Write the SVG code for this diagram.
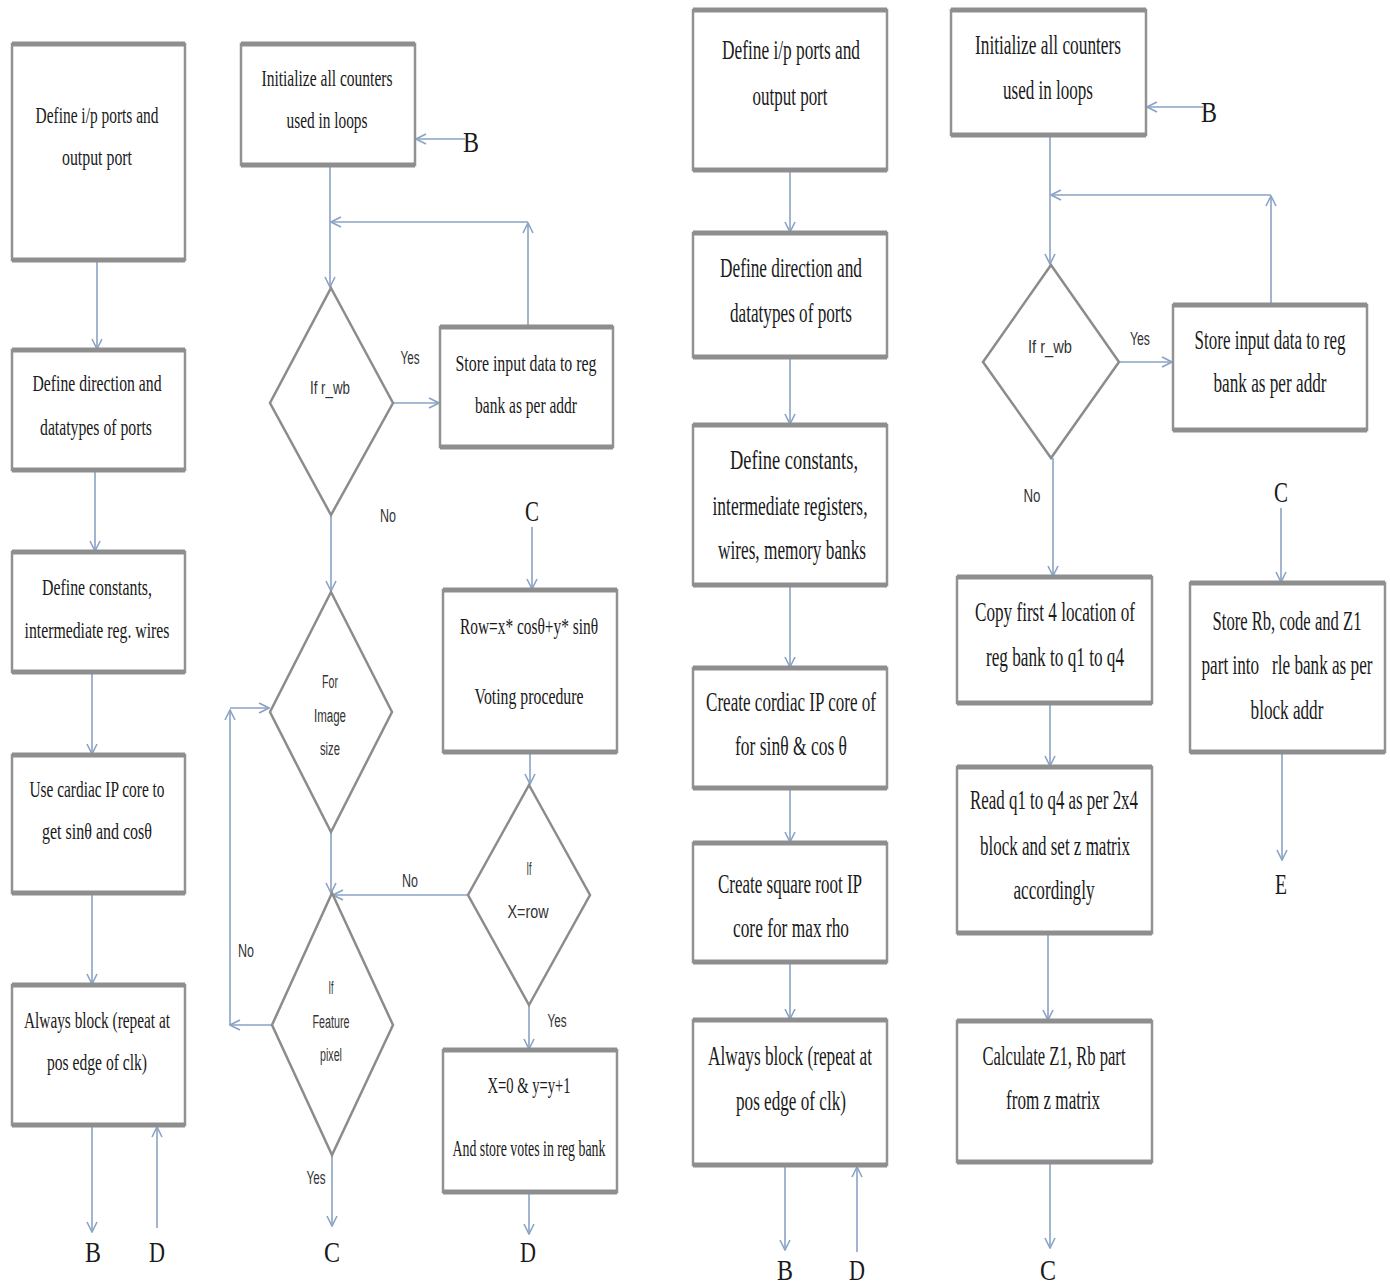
<svg xmlns="http://www.w3.org/2000/svg" width="1390" height="1287" viewBox="0 0 1390 1287">
<style>
.bx{fill:#fff;stroke:#929292;stroke-width:2.5}
.eg{stroke:#8e8e8e;stroke-width:5}
.dm{fill:#fff;stroke:#8c8c8c;stroke-width:2.5}
.t{font-family:"Liberation Serif",serif;font-size:24px;fill:#1a1a1a;text-anchor:middle}
.tl{font-family:"Liberation Serif",serif;font-size:27px;fill:#1a1a1a;text-anchor:middle}
.s{font-family:"Liberation Sans",sans-serif;font-size:18px;fill:#333;text-anchor:middle}
.lb{font-family:"Liberation Serif",serif;font-size:29px;fill:#1a1a1a;text-anchor:middle}
.c{fill:none;stroke:#8aa3c4;stroke-width:1.6}
</style>
<defs>
<marker id="a" viewBox="0 0 12 12" refX="11" refY="6" markerWidth="12" markerHeight="12" markerUnits="userSpaceOnUse" orient="auto">
<path d="M1,1 L11,6 L1,11" fill="none" stroke="#8aa3c4" stroke-width="1.6"/>
</marker>
</defs>

<g id="connectors">
<line class="c" x1="97" y1="260" x2="97" y2="349" marker-end="url(#a)"/>
<line class="c" x1="95" y1="470" x2="95" y2="551" marker-end="url(#a)"/>
<line class="c" x1="92" y1="672" x2="92" y2="754" marker-end="url(#a)"/>
<line class="c" x1="92" y1="893" x2="92" y2="984" marker-end="url(#a)"/>
<line class="c" x1="92" y1="1125" x2="92" y2="1232" marker-end="url(#a)"/>
<line class="c" x1="157" y1="1228" x2="157" y2="1127" marker-end="url(#a)"/>
<line class="c" x1="465" y1="139" x2="416" y2="139" marker-end="url(#a)"/>
<line class="c" x1="330" y1="165" x2="330" y2="287" marker-end="url(#a)"/>
<line class="c" x1="528" y1="327" x2="528" y2="223" marker-end="url(#a)"/>
<line class="c" x1="528" y1="222" x2="331" y2="222" marker-end="url(#a)"/>
<line class="c" x1="393" y1="403" x2="439" y2="403" marker-end="url(#a)"/>
<line class="c" x1="331" y1="515" x2="331" y2="591" marker-end="url(#a)"/>
<line class="c" x1="331" y1="832" x2="331" y2="893" marker-end="url(#a)"/>
<line class="c" x1="272" y1="1025" x2="230" y2="1025" marker-end="url(#a)"/>
<line class="c" x1="230" y1="1025" x2="230" y2="710" marker-end="url(#a)"/>
<line class="c" x1="230" y1="708" x2="269" y2="708" marker-end="url(#a)"/>
<line class="c" x1="332" y1="1155" x2="332" y2="1226" marker-end="url(#a)"/>
<line class="c" x1="532" y1="527" x2="532" y2="589" marker-end="url(#a)"/>
<line class="c" x1="530" y1="752" x2="530" y2="784" marker-end="url(#a)"/>
<line class="c" x1="468" y1="895" x2="333" y2="895" marker-end="url(#a)"/>
<line class="c" x1="529" y1="1005" x2="529" y2="1049" marker-end="url(#a)"/>
<line class="c" x1="529" y1="1192" x2="529" y2="1234" marker-end="url(#a)"/>
<line class="c" x1="790" y1="170" x2="790" y2="232" marker-end="url(#a)"/>
<line class="c" x1="790" y1="357" x2="790" y2="424" marker-end="url(#a)"/>
<line class="c" x1="790" y1="585" x2="790" y2="667" marker-end="url(#a)"/>
<line class="c" x1="790" y1="788" x2="790" y2="842" marker-end="url(#a)"/>
<line class="c" x1="790" y1="962" x2="790" y2="1019" marker-end="url(#a)"/>
<line class="c" x1="785" y1="1165" x2="785" y2="1250" marker-end="url(#a)"/>
<line class="c" x1="857" y1="1252" x2="857" y2="1167" marker-end="url(#a)"/>
<line class="c" x1="1203" y1="107" x2="1147" y2="107" marker-end="url(#a)"/>
<line class="c" x1="1050" y1="135" x2="1050" y2="264" marker-end="url(#a)"/>
<line class="c" x1="1271" y1="305" x2="1271" y2="196" marker-end="url(#a)"/>
<line class="c" x1="1271" y1="195" x2="1051" y2="195" marker-end="url(#a)"/>
<line class="c" x1="1119" y1="362" x2="1172" y2="362" marker-end="url(#a)"/>
<line class="c" x1="1053" y1="458" x2="1053" y2="576" marker-end="url(#a)"/>
<line class="c" x1="1050" y1="703" x2="1050" y2="766" marker-end="url(#a)"/>
<line class="c" x1="1048" y1="933" x2="1048" y2="1020" marker-end="url(#a)"/>
<line class="c" x1="1050" y1="1162" x2="1050" y2="1248" marker-end="url(#a)"/>
<line class="c" x1="1281" y1="508" x2="1281" y2="582" marker-end="url(#a)"/>
<line class="c" x1="1282" y1="752" x2="1282" y2="860" marker-end="url(#a)"/>
</g>

<g id="labels">
<text class="lb" x="93" y="1262" textLength="16" lengthAdjust="spacingAndGlyphs">B</text>
<text class="lb" x="157" y="1262" textLength="16" lengthAdjust="spacingAndGlyphs">D</text>
<text class="lb" x="471" y="152" textLength="16" lengthAdjust="spacingAndGlyphs">B</text>
<text class="lb" x="332" y="1262" textLength="16" lengthAdjust="spacingAndGlyphs">C</text>
<text class="lb" x="532" y="521" textLength="14" lengthAdjust="spacingAndGlyphs">C</text>
<text class="lb" x="528" y="1262" textLength="16" lengthAdjust="spacingAndGlyphs">D</text>
<text class="lb" x="785" y="1280" textLength="16" lengthAdjust="spacingAndGlyphs">B</text>
<text class="lb" x="857" y="1280" textLength="16" lengthAdjust="spacingAndGlyphs">D</text>
<text class="lb" x="1209" y="122" textLength="16" lengthAdjust="spacingAndGlyphs">B</text>
<text class="lb" x="1048" y="1280" textLength="16" lengthAdjust="spacingAndGlyphs">C</text>
<text class="lb" x="1281" y="502" textLength="14" lengthAdjust="spacingAndGlyphs">C</text>
<text class="lb" x="1281" y="894" textLength="12" lengthAdjust="spacingAndGlyphs">E</text>
<text class="s" x="410" y="364" textLength="19" lengthAdjust="spacingAndGlyphs">Yes</text>
<text class="s" x="388" y="522" textLength="16" lengthAdjust="spacingAndGlyphs">No</text>
<text class="s" x="246" y="957" textLength="16" lengthAdjust="spacingAndGlyphs">No</text>
<text class="s" x="316" y="1184" textLength="19" lengthAdjust="spacingAndGlyphs">Yes</text>
<text class="s" x="410" y="887" textLength="16" lengthAdjust="spacingAndGlyphs">No</text>
<text class="s" x="557" y="1027" textLength="19" lengthAdjust="spacingAndGlyphs">Yes</text>
<text class="s" x="1140" y="345" textLength="20" lengthAdjust="spacingAndGlyphs">Yes</text>
<text class="s" x="1032" y="502" textLength="17" lengthAdjust="spacingAndGlyphs">No</text>
</g>

<g id="n1">
<rect class="bx" x="12" y="44" width="173" height="216"/><line class="eg" x1="12" y1="44" x2="185" y2="44"/><line class="eg" x1="12" y1="260" x2="185" y2="260"/>
<text class="t" x="97" y="123" textLength="123" lengthAdjust="spacingAndGlyphs">Define i/p ports and</text>
<text class="t" x="97" y="165" textLength="70" lengthAdjust="spacingAndGlyphs">output port</text>
</g>
<g id="n2">
<rect class="bx" x="12" y="350" width="173" height="120"/><line class="eg" x1="12" y1="350" x2="185" y2="350"/><line class="eg" x1="12" y1="470" x2="185" y2="470"/>
<text class="t" x="97" y="391" textLength="129" lengthAdjust="spacingAndGlyphs">Define direction and</text>
<text class="t" x="96" y="435" textLength="112" lengthAdjust="spacingAndGlyphs">datatypes of ports</text>
</g>
<g id="n3">
<rect class="bx" x="12" y="552" width="173" height="120"/><line class="eg" x1="12" y1="552" x2="185" y2="552"/><line class="eg" x1="12" y1="672" x2="185" y2="672"/>
<text class="t" x="97" y="595" textLength="110" lengthAdjust="spacingAndGlyphs">Define constants,</text>
<text class="t" x="97" y="638" textLength="145" lengthAdjust="spacingAndGlyphs">intermediate reg. wires</text>
</g>
<g id="n4">
<rect class="bx" x="12" y="755" width="173" height="138"/><line class="eg" x1="12" y1="755" x2="185" y2="755"/><line class="eg" x1="12" y1="893" x2="185" y2="893"/>
<text class="t" x="97" y="797" textLength="135" lengthAdjust="spacingAndGlyphs">Use cardiac IP core to</text>
<text class="t" x="97" y="839" textLength="110" lengthAdjust="spacingAndGlyphs">get sinθ and cosθ</text>
</g>
<g id="n5">
<rect class="bx" x="12" y="985" width="173" height="140"/><line class="eg" x1="12" y1="985" x2="185" y2="985"/><line class="eg" x1="12" y1="1125" x2="185" y2="1125"/>
<text class="t" x="97" y="1028" textLength="146" lengthAdjust="spacingAndGlyphs">Always block (repeat at</text>
<text class="t" x="97" y="1070" textLength="100" lengthAdjust="spacingAndGlyphs">pos edge of clk)</text>
</g>

<g id="n6">
<rect class="bx" x="241" y="44" width="174" height="121"/><line class="eg" x1="241" y1="44" x2="415" y2="44"/><line class="eg" x1="241" y1="165" x2="415" y2="165"/>
<text class="t" x="327" y="86" textLength="131" lengthAdjust="spacingAndGlyphs">Initialize all counters</text>
<text class="t" x="327" y="128" textLength="81" lengthAdjust="spacingAndGlyphs">used in loops</text>
</g>
<g id="n7">
<polygon class="dm" points="331,288 393,403 331,515 270,403"/>
<text class="s" x="330" y="394" textLength="40" lengthAdjust="spacingAndGlyphs">If r_wb</text>
</g>
<g id="n8">
<rect class="bx" x="440" y="327" width="173" height="120"/><line class="eg" x1="440" y1="327" x2="613" y2="327"/><line class="eg" x1="440" y1="447" x2="613" y2="447"/>
<text class="t" x="526" y="371" textLength="141" lengthAdjust="spacingAndGlyphs">Store input data to reg</text>
<text class="t" x="526" y="413" textLength="102" lengthAdjust="spacingAndGlyphs">bank as per addr</text>
</g>
<g id="n9">
<polygon class="dm" points="331,592 392,712 331,832 270,712"/>
<text class="s" x="330" y="688" textLength="16" lengthAdjust="spacingAndGlyphs">For</text>
<text class="s" x="330" y="722" textLength="32" lengthAdjust="spacingAndGlyphs">Image</text>
<text class="s" x="330" y="755" textLength="20" lengthAdjust="spacingAndGlyphs">size</text>
</g>
<g id="n10">
<polygon class="dm" points="332,893 393,1025 332,1155 272,1025"/>
<text class="s" x="331" y="994" textLength="5" lengthAdjust="spacingAndGlyphs">If</text>
<text class="s" x="331" y="1028" textLength="37" lengthAdjust="spacingAndGlyphs">Feature</text>
<text class="s" x="331" y="1061" textLength="22" lengthAdjust="spacingAndGlyphs">pixel</text>
</g>

<g id="n11">
<rect class="bx" x="443" y="590" width="174" height="162"/><line class="eg" x1="443" y1="590" x2="617" y2="590"/><line class="eg" x1="443" y1="752" x2="617" y2="752"/>
<text class="t" x="529" y="634" textLength="138" lengthAdjust="spacingAndGlyphs">Row=x* cosθ+y* sinθ</text>
<text class="t" x="529" y="704" textLength="109" lengthAdjust="spacingAndGlyphs">Voting procedure</text>
</g>
<g id="n12">
<polygon class="dm" points="529,785 590,895 529,1005 468,895"/>
<text class="s" x="529" y="875" textLength="5" lengthAdjust="spacingAndGlyphs">If</text>
<text class="s" x="528" y="918" textLength="41" lengthAdjust="spacingAndGlyphs">X=row</text>
</g>
<g id="n13">
<rect class="bx" x="443" y="1050" width="174" height="142"/><line class="eg" x1="443" y1="1050" x2="617" y2="1050"/><line class="eg" x1="443" y1="1192" x2="617" y2="1192"/>
<text class="t" x="529" y="1093" textLength="83" lengthAdjust="spacingAndGlyphs">X=0 &amp; y=y+1</text>
<text class="t" x="529" y="1156" textLength="153" lengthAdjust="spacingAndGlyphs">And store votes in reg bank</text>
</g>

<g id="n14">
<rect class="bx" x="693" y="10" width="194" height="160"/><line class="eg" x1="693" y1="10" x2="887" y2="10"/><line class="eg" x1="693" y1="170" x2="887" y2="170"/>
<text class="tl" x="791" y="59" textLength="138" lengthAdjust="spacingAndGlyphs">Define i/p ports and</text>
<text class="tl" x="790" y="105" textLength="75" lengthAdjust="spacingAndGlyphs">output port</text>
</g>
<g id="n15">
<rect class="bx" x="693" y="233" width="194" height="124"/><line class="eg" x1="693" y1="233" x2="887" y2="233"/><line class="eg" x1="693" y1="357" x2="887" y2="357"/>
<text class="tl" x="791" y="277" textLength="142" lengthAdjust="spacingAndGlyphs">Define direction and</text>
<text class="tl" x="791" y="322" textLength="122" lengthAdjust="spacingAndGlyphs">datatypes of ports</text>
</g>
<g id="n16">
<rect class="bx" x="693" y="425" width="194" height="160"/><line class="eg" x1="693" y1="425" x2="887" y2="425"/><line class="eg" x1="693" y1="585" x2="887" y2="585"/>
<text class="tl" x="794" y="469" textLength="128" lengthAdjust="spacingAndGlyphs">Define constants,</text>
<text class="tl" x="790" y="515" textLength="155" lengthAdjust="spacingAndGlyphs">intermediate registers,</text>
<text class="tl" x="792" y="559" textLength="148" lengthAdjust="spacingAndGlyphs">wires, memory banks</text>
</g>
<g id="n17">
<rect class="bx" x="693" y="668" width="194" height="120"/><line class="eg" x1="693" y1="668" x2="887" y2="668"/><line class="eg" x1="693" y1="788" x2="887" y2="788"/>
<text class="tl" x="791" y="711" textLength="170" lengthAdjust="spacingAndGlyphs">Create cordiac IP core of</text>
<text class="tl" x="791" y="755" textLength="112" lengthAdjust="spacingAndGlyphs">for sinθ &amp; cos θ</text>
</g>
<g id="n18">
<rect class="bx" x="693" y="843" width="194" height="119"/><line class="eg" x1="693" y1="843" x2="887" y2="843"/><line class="eg" x1="693" y1="962" x2="887" y2="962"/>
<text class="tl" x="790" y="893" textLength="144" lengthAdjust="spacingAndGlyphs">Create square root IP</text>
<text class="tl" x="791" y="937" textLength="116" lengthAdjust="spacingAndGlyphs">core for max rho</text>
</g>
<g id="n19">
<rect class="bx" x="693" y="1020" width="194" height="145"/><line class="eg" x1="693" y1="1020" x2="887" y2="1020"/><line class="eg" x1="693" y1="1165" x2="887" y2="1165"/>
<text class="tl" x="790" y="1065" textLength="164" lengthAdjust="spacingAndGlyphs">Always block (repeat at</text>
<text class="tl" x="791" y="1110" textLength="110" lengthAdjust="spacingAndGlyphs">pos edge of clk)</text>
</g>

<g id="n20">
<rect class="bx" x="951" y="10" width="195" height="125"/><line class="eg" x1="951" y1="10" x2="1146" y2="10"/><line class="eg" x1="951" y1="135" x2="1146" y2="135"/>
<text class="tl" x="1048" y="54" textLength="146" lengthAdjust="spacingAndGlyphs">Initialize all counters</text>
<text class="tl" x="1048" y="99" textLength="90" lengthAdjust="spacingAndGlyphs">used in loops</text>
</g>
<g id="n21">
<polygon class="dm" points="1051,265 1119,362 1051,458 983,362"/>
<text class="s" x="1050" y="353" textLength="44" lengthAdjust="spacingAndGlyphs">If r_wb</text>
</g>
<g id="n22">
<rect class="bx" x="1173" y="305" width="194" height="125"/><line class="eg" x1="1173" y1="305" x2="1367" y2="305"/><line class="eg" x1="1173" y1="430" x2="1367" y2="430"/>
<text class="tl" transform="translate(1270,349) scale(0.65,1)" x="0" y="0" textLength="232" lengthAdjust="spacingAndGlyphs">Store input data to reg</text>
<text class="tl" transform="translate(1270,392) scale(0.65,1)" x="0" y="0" textLength="174" lengthAdjust="spacingAndGlyphs">bank as per addr</text>
</g>
<g id="n23">
<rect class="bx" x="957" y="577" width="195" height="126"/><line class="eg" x1="957" y1="577" x2="1152" y2="577"/><line class="eg" x1="957" y1="703" x2="1152" y2="703"/>
<text class="tl" x="1055" y="621" textLength="160" lengthAdjust="spacingAndGlyphs">Copy first 4 location of</text>
<text class="tl" x="1055" y="666" textLength="138" lengthAdjust="spacingAndGlyphs">reg bank to q1 to q4</text>
</g>
<g id="n24">
<rect class="bx" x="957" y="767" width="195" height="166"/><line class="eg" x1="957" y1="767" x2="1152" y2="767"/><line class="eg" x1="957" y1="933" x2="1152" y2="933"/>
<text class="tl" x="1054" y="809" textLength="168" lengthAdjust="spacingAndGlyphs">Read q1 to q4 as per 2x4</text>
<text class="tl" x="1055" y="855" textLength="150" lengthAdjust="spacingAndGlyphs">block and set z matrix</text>
<text class="tl" x="1054" y="899" textLength="81" lengthAdjust="spacingAndGlyphs">accordingly</text>
</g>
<g id="n25">
<rect class="bx" x="957" y="1021" width="195" height="141"/><line class="eg" x1="957" y1="1021" x2="1152" y2="1021"/><line class="eg" x1="957" y1="1162" x2="1152" y2="1162"/>
<text class="tl" x="1054" y="1065" textLength="143" lengthAdjust="spacingAndGlyphs">Calculate Z1, Rb part</text>
<text class="tl" x="1053" y="1109" textLength="94" lengthAdjust="spacingAndGlyphs">from z matrix</text>
</g>
<g id="n26">
<rect class="bx" x="1190" y="583" width="195" height="169"/><line class="eg" x1="1190" y1="583" x2="1385" y2="583"/><line class="eg" x1="1190" y1="752" x2="1385" y2="752"/>
<text class="tl" transform="translate(1287,630) scale(0.65,1)" x="0" y="0" textLength="229" lengthAdjust="spacingAndGlyphs">Store Rb, code and Z1</text>
<text class="tl" transform="translate(1287,674) scale(0.65,1)" x="0" y="0" textLength="263" lengthAdjust="spacingAndGlyphs" xml:space="preserve">part into   rle bank as per</text>
<text class="tl" transform="translate(1287,719) scale(0.65,1)" x="0" y="0" textLength="112" lengthAdjust="spacingAndGlyphs">block addr</text>
</g>
</svg>
